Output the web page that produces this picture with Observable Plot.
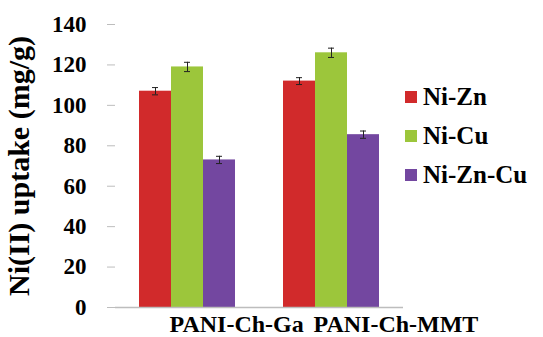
<!DOCTYPE html>
<html>
<head>
<meta charset="utf-8">
<script src="https://cdn.jsdelivr.net/npm/d3@7"></script>
<script src="https://cdn.jsdelivr.net/npm/@observablehq/plot@0.6"></script>
<style>
  html, body { margin: 0; padding: 0; background: #fff; }
  #wrap { position: relative; width: 543px; height: 337px; }
  #legend { position: absolute; left: 405px; top: 77px; font-family: "Liberation Serif", "Times New Roman", Times, serif; font-weight: bold; font-size: 25px; color: #000; }
  #legend .row { display: flex; align-items: center; height: 39px; }
  #legend .sw { width: 12px; height: 12px; margin-right: 6px; }
</style>
</head>
<body>
<div id="wrap"><div id="legend"></div></div>
<script>
const groups = ["PANI-Ch-Ga", "PANI-Ch-MMT"];
const series = ["Ni-Zn", "Ni-Cu", "Ni-Zn-Cu"];
const colors = ["#d12a2b", "#9cc63b", "#7347a0"];
const gaValues = [107, 119, 73];
const mmtValues = [112, 126, 85.5];
const gaErrors = [1.8, 2.3, 1.8];
const mmtErrors = [1.7, 2.3, 1.8];
const yTicks = [0, 20, 40, 60, 80, 100, 120, 140];

const data = [];
series.forEach((s, i) => {
  data.push({group: groups[0], series: s, value: gaValues[i], err: gaErrors[i]});
  data.push({group: groups[1], series: s, value: mmtValues[i], err: mmtErrors[i]});
});

const W = 543, H = 337, mL = 115, mR = 140, mT = 24, mB = 30;
const padIn = 1/3, padOut = 1/6;
const bandScale = d3.scaleBand().domain(groups).range([mL, W - mR]).paddingInner(padIn).paddingOuter(padOut);
const bw = bandScale.bandwidth();
const sub = bw / series.length;

const seriesMarks = series.flatMap((s, i) => {
  const rows = data.filter(d => d.series === s);
  const left = i * sub, right = (series.length - 1 - i) * sub;
  const shift = (i - (series.length - 1) / 2) * sub;
  return [
    Plot.barY(rows, {x: "group", y: "value", fill: colors[i], insetLeft: left, insetRight: right}),
    Plot.ruleX(rows, {x: "group", y1: d => d.value - d.err, y2: d => d.value + d.err, stroke: "#222", strokeWidth: 1, dx: shift}),
    Plot.tickY(rows, {x: "group", y: d => d.value - d.err, stroke: "#222", strokeWidth: 1, insetLeft: left + 13, insetRight: right + 13}),
    Plot.tickY(rows, {x: "group", y: d => d.value + d.err, stroke: "#222", strokeWidth: 1, insetLeft: left + 13, insetRight: right + 13})
  ];
});

const chart = Plot.plot({
  width: W,
  height: H,
  marginLeft: mL,
  marginRight: mR,
  marginTop: mT,
  marginBottom: mB,
  style: {fontFamily: "'Liberation Serif', 'Times New Roman', Times, serif", fontWeight: "bold", color: "#000", background: "#fff"},
  x: {domain: groups, paddingInner: padIn, paddingOuter: padOut, label: null},
  y: {domain: [0, 140], label: null},
  marks: [
    ...seriesMarks,
    Plot.ruleY([0], {stroke: "#bdbdbd", strokeWidth: 1.5}),
    Plot.axisY({ticks: yTicks, tickSize: 8, tickPadding: 21, fontSize: 23, fontWeight: "bold", stroke: "#bdbdbd", fill: "#000", tickFormat: d => d, line: true}),
    Plot.axisY({ticks: [], tickSize: 0, label: "Ni(II) uptake (mg/g)", labelAnchor: "center", labelArrow: "none", labelOffset: 108, fontSize: 30, fontWeight: "bold"}),
    Plot.axisX({anchor: "bottom", tickSize: 0, tickPadding: 7, fontSize: 24, fontWeight: "bold", textAnchor: "start", dx: -18, label: null})
  ]
});

document.getElementById("wrap").prepend(chart);

const legend = document.getElementById("legend");
series.forEach((s, i) => {
  const row = document.createElement("div");
  row.className = "row";
  const sw = document.createElement("div");
  sw.className = "sw";
  sw.style.background = colors[i];
  const t = document.createElement("span");
  t.textContent = s;
  row.appendChild(sw);
  row.appendChild(t);
  legend.appendChild(row);
});
</script>
</body>
</html>
